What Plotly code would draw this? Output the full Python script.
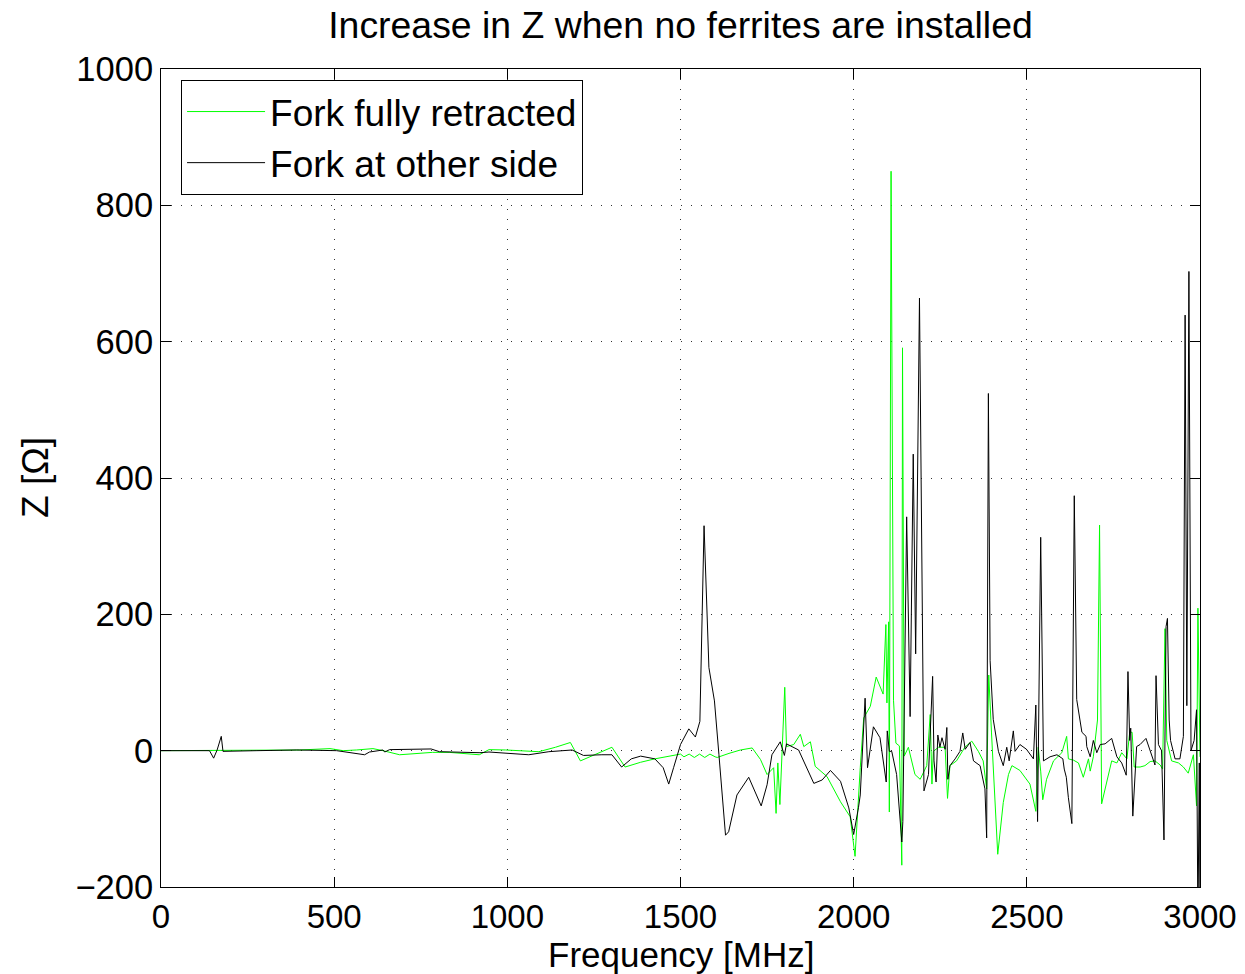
import plotly.graph_objects as go

# Fork fully retracted (green)
freq_retracted = [0, 100, 200, 300, 400, 488, 526, 564, 612, 641, 689, 784, 832, 919, 947, 995,
                  1043, 1091, 1139, 1182, 1211, 1235, 1302, 1340, 1385, 1426, 1481, 1500, 1510,
                  1525, 1540, 1555, 1570, 1585, 1600, 1606, 1640, 1673, 1707, 1731, 1750, 1769,
                  1776, 1781, 1787, 1792, 1801, 1806, 1827, 1846, 1856, 1875, 1889, 1923, 1962,
                  1990, 2004, 2019, 2029, 2048, 2065, 2085, 2093, 2096, 2101, 2103, 2108, 2115,
                  2122, 2132, 2139, 2141, 2146, 2158, 2177, 2192, 2211, 2221, 2226, 2230, 2245,
                  2264, 2271, 2278, 2297, 2321, 2341, 2360, 2374, 2384, 2390, 2398, 2416, 2432,
                  2447, 2457, 2480, 2509, 2526, 2533, 2540, 2546, 2557, 2577, 2601, 2615, 2620,
                  2635, 2649, 2663, 2678, 2683, 2692, 2704, 2710, 2716, 2731, 2745, 2760, 2774,
                  2789, 2797, 2804, 2810, 2827, 2841, 2856, 2870, 2885, 2892, 2899, 2904, 2918,
                  2938, 2952, 2966, 2981, 2990, 2994, 3000]
z_retracted = [0, 0, 0.5, 0, 1, 3, 0, 1, 3, 0, -6, -2.5, -2.5, -6, 1.5, 1,
               0, -1.5, 5, 12, -15, -10, 5, -24, -17, -12, -7, -5, -9,
               -5, -10, -5, -10, -5, -9, -10, -4, 1, 4, -13, -35, -25,
               -92, -18, -79, -21, 93, 6, 9, 24, 6, 13, -23, -38, -75,
               -97, -155, -25, 48, 65, 108, 83, 185, 70, 189, -90, 850, 74,
               11, 7, -168, 591, -8, 5, -35, -42, -22, 53, -49, -1, 5,
               5, -70, -22, -15, 5, 14, -1, -15, -56, 111, 26, -152, -76,
               -35, -22, -29, -49, -89, 5, -30, -72, -42, -15, -3, 21, -12,
               -14, -18, -39, -12, -30, -9, 45, 331, -78, -45, -15, -18, -3,
               -12, 27, 27, -24, -24, -22, -16, -15, -21, -27, 179, 15, -15,
               -18, -24, -33, -6, -81, 209, -9]

# Fork at other side (black)
freq_other = [0, 100, 140, 152, 162, 174, 179, 277, 392, 507, 545, 588, 602, 641, 646, 660,
              780, 804, 921, 947, 1062, 1120, 1187, 1220, 1273, 1302, 1330, 1358, 1385, 1426,
              1450, 1466, 1480, 1500, 1524, 1543, 1556, 1568, 1582, 1598, 1611, 1630, 1639,
              1663, 1697, 1707, 1733, 1750, 1764, 1788, 1800, 1806, 1841, 1885, 1909, 1933,
              1962, 1986, 2000, 2014, 2019, 2033, 2040, 2057, 2076, 2094, 2097, 2103, 2110,
              2124, 2139, 2142, 2153, 2163, 2172, 2179, 2190, 2203, 2216, 2228, 2232, 2238,
              2243, 2249, 2255, 2264, 2269, 2272, 2278, 2293, 2307, 2315, 2322, 2336, 2346,
              2365, 2379, 2384, 2389, 2394, 2403, 2418, 2432, 2442, 2449, 2461, 2466, 2480,
              2499, 2519, 2526, 2531, 2540, 2548, 2567, 2587, 2604, 2608, 2614, 2620, 2630,
              2637, 2644, 2659, 2671, 2673, 2683, 2692, 2702, 2712, 2726, 2745, 2760, 2774,
              2787, 2792, 2797, 2800, 2806, 2817, 2827, 2844, 2861, 2870, 2873, 2880, 2889,
              2896, 2902, 2906, 2911, 2915, 2928, 2942, 2952, 2957, 2962, 2968, 2974, 2983,
              2990, 2994, 2998, 3000]
z_other = [0, 0, 0, -11, 1, 21, -1, 0, 1, 0, -3, -6, -2, 1, -2, 1.5,
           2.5, -1.5, -3, -2, -6, -1.5, 1, -7, -6, -6, -24, -12, -8, -12,
           -25, -49, -25, 9, 32, 20, 43, 330, 122, 73, -6, -124, -119,
           -65, -39, -50, -81, -50, -6, 13, -7, 10, 1, -48, -43, -29,
           -45, -84, -123, -83, -65, 77, -25, 35, 19, -46, 29, -1, -1,
           -35, -134, -104, 343, 50, 435, 142, 664, -59, -35, 109, -15, -46,
           23, 5, 19, 2, 34, -42, -22, -12, -1, 26, 2, 12, -15,
           -22, -56, -128, 524, 132, 46, -1, -22, 5, -15, 29, -1, 9,
           2, -12, 67, -104, 313, -15, -9, -6, -12, -27, -39, -69, -107,
           374, 75, 27, 21, 6, -9, 15, -3, 9, 10, 18, -9, -18,
           -36, 116, 15, 33, -96, 6, 9, 18, -9, -21, 110, 9, 0,
           -131, 182, 194, 45, 15, -12, -12, 21, 639, 66, 703, 0, 15,
           60, -260, -18, -260]

x_ticks = [0, 500, 1000, 1500, 2000, 2500, 3000]
y_ticks = [-200, 0, 200, 400, 600, 800, 1000]

FONT = "Liberation Sans, Arial, Helvetica, sans-serif"

fig = go.Figure()
fig.add_trace(go.Scatter(x=freq_retracted, y=z_retracted, mode="lines",
                         name="Fork fully retracted",
                         line=dict(color="#00ff00", width=1)))
fig.add_trace(go.Scatter(x=freq_other, y=z_other, mode="lines",
                         name="Fork at other side",
                         line=dict(color="#000000", width=1)))

axis_common = dict(
    showline=True, linecolor="black", linewidth=1, mirror="ticks",
    ticks="inside", ticklen=10, tickcolor="black", tickwidth=1,
    showgrid=True, gridcolor="#333333", gridwidth=1, griddash="1px,9px",
    zeroline=False, automargin=False,
)

fig.update_layout(
    width=1245, height=974,
    margin=dict(l=161, r=45, t=69, b=87, autoexpand=False),
    paper_bgcolor="white", plot_bgcolor="white",
    font=dict(family=FONT, color="black"),
    title=dict(text="Increase in Z when no ferrites are installed",
               x=0.5, xref="paper", xanchor="center",
               y=1 - 25 / 974, yref="container", yanchor="middle",
               font=dict(family=FONT, size=37.4, color="black")),
    xaxis=dict(range=[0, 3000], tickvals=x_ticks,
               tickfont=dict(family=FONT, size=33, color="black"), **axis_common),
    yaxis=dict(range=[-200, 1000], tickvals=y_ticks,
               tickfont=dict(family=FONT, size=34.5, color="black"), **axis_common),
    showlegend=True,
    legend=dict(x=0.0193, y=(887 - 80) / 818, xanchor="left", yanchor="top",
                bgcolor="white", bordercolor="black", borderwidth=1,
                font=dict(family=FONT, size=37, color="black"),
                itemwidth=78, tracegroupgap=0),
    annotations=[
        dict(text="Frequency [MHz]", xref="paper", yref="paper",
             x=0.5, y=(887 - 954.5) / 818, xanchor="center", yanchor="middle",
             showarrow=False, font=dict(family=FONT, size=35, color="black")),
        dict(text="Z [Ω]", xref="paper", yref="paper",
             x=(35 - 161) / 1039, y=0.5, xanchor="center", yanchor="middle",
             textangle=-90, showarrow=False,
             font=dict(family=FONT, size=37, color="black")),
    ],
)

fig.write_html("out.html", config={"displayModeBar": False})
